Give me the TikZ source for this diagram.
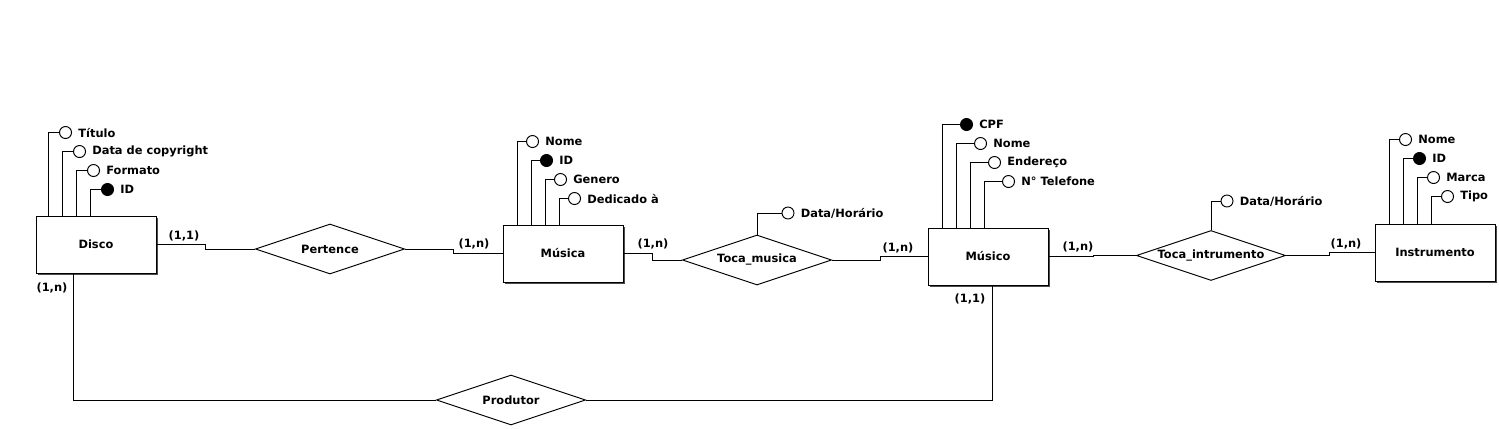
\documentclass[tikz,border=0pt]{standalone}
\usepackage{fontspec}
\setmainfont{DejaVu Sans}
\usetikzlibrary{shapes.geometric, shadows}

\tikzset{
  entity/.style={rectangle, draw, fill=white, minimum width=2.4cm, minimum height=1.14cm, inner sep=0pt,
    drop shadow={shadow xshift=0.04cm, shadow yshift=-0.04cm, fill=black!70, opacity=1}},
  relation/.style={diamond, draw, fill=white, minimum width=2.98cm, minimum height=1cm, inner sep=0pt, aspect=2.98},
  attr/.style={circle, draw, fill=white, minimum size=0.24cm, inner sep=0pt, label={[label distance=0pt]right:#1}},
}

\begin{document}
\begin{tikzpicture}[x=0.02cm, y=-0.02cm, line width=0.55pt, font=\fontsize{6.5}{7.8}\selectfont\bfseries]
\useasboundingbox (0,0) rectangle (1499,429);

% entidades
\node[entity] (disco) at (96,244.5) {Disco};
\node[entity] (musica) at (563,253.5) {Música};
\node[entity] (musico) at (988,256.5) {Músico};
\node[entity] (instrumento) at (1435,252.5) {Instrumento};

% relacionamentos
\node[relation] (pertence) at (330,249) {Pertence};
\node[relation] (tocamusica) at (757,260) {Toca\_musica};
\node[relation] (tocainstr) at (1211,255.5) {Toca\_intrumento};
\node[relation] (produtor) at (511,400) {Produtor};

% atributos
\foreach \t/\c [count=\i] in {Título/white, Data de copyright/white, Formato/white, ID/black}{
  \node[attr=\t, fill=\c] (disco-\i) at ([shift={({14*\i+16},{19*\i-102})}]disco.north west) {};
  \draw ([xshift=\i*0.28cm-0.02cm]disco.north west) |- (disco-\i);
}
\foreach \t/\c [count=\i] in {Nome/white, ID/black, Genero/white, Dedicado à/white}{
  \node[attr=\t, fill=\c] (musica-\i) at ([shift={({14*\i+16},{19*\i-102})}]musica.north west) {};
  \draw ([xshift=\i*0.28cm+0.02cm]musica.north west) |- (musica-\i);
}
\foreach \t/\c [count=\i] in {CPF/black, Nome/white, Endereço/white, N° Telefone/white}{
  \node[attr=\t, fill=\c] (musico-\i) at ([shift={({14*\i+25},{19*\i-122})}]musico.north west) {};
  \draw ([xshift=\i*0.28cm+0.02cm]musico.north west) |- (musico-\i);
}
\foreach \t/\c [count=\i] in {Nome/white, ID/black, Marca/white, Tipo/white}{
  \node[attr=\t, fill=\c] (instrumento-\i) at ([shift={({14*\i+17},{19*\i-103})}]instrumento.north west) {};
  \draw ([xshift=\i*0.28cm+0.02cm]instrumento.north west) |- (instrumento-\i);
}
\node[attr=Data/Horário] (tocamusica-data) at (788,213) {};
\draw (tocamusica.north) |- (tocamusica-data);
\node[attr=Data/Horário] (tocainstr-data) at (1227,201) {};
\draw (tocainstr.north) |- (tocainstr-data);

% ligacoes
\draw (disco.east) -- ++(49,0) |- (pertence.west);
\draw (pertence.east) -- ++(49,0) |- (musica.west);
\draw (musica.east) -- ++(29,0) |- (tocamusica.west);
\draw (tocamusica.east) -- ++(49,0) |- (musico.west);
\draw (musico.east) -- ++(45,0) |- (tocainstr.west);
\draw (tocainstr.east) -- ++(44,0) |- (instrumento.west);
\draw ([xshift=0.76cm]disco.south west) |- (produtor.west);
\draw ([xshift=1.3cm]musico.south west) |- (produtor.east);

% cardinalidades
\node (c-disco-pert) at (184,236) {(1,1)};
\node (c-pert-musica) at (474,244) {(1,n)};
\node (c-musica-toca) at (653,244) {(1,n)};
\node (c-toca-musico) at (898,248) {(1,n)};
\node (c-musico-toca) at (1078,247) {(1,n)};
\node (c-toca-instr) at (1346,244) {(1,n)};
\node (c-disco-prod) at (52,288) {(1,n)};
\node (c-musico-prod) at (970,299) {(1,1)};
\end{tikzpicture}
\end{document}
